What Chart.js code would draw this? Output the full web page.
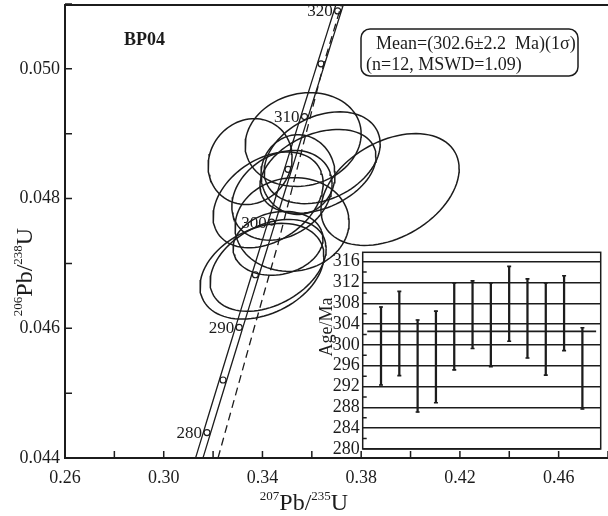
<!DOCTYPE html>
<html>
<head>
<meta charset="utf-8">
<script src="https://cdn.jsdelivr.net/npm/chart.js@4.4.1/dist/chart.umd.min.js"></script>
<style>
html, body { margin: 0; padding: 0; background: #fff; }
#wrap { position: relative; width: 608px; height: 516px; }
#main { position: absolute; left: 0; top: 0; }
#inset { position: absolute; left: 300px; top: 240px; }
</style>
</head>
<body>
<div id="wrap">
  <canvas id="main" width="608" height="516"></canvas>
  <canvas id="inset" width="308" height="230"></canvas>
</div>
<script>
// spot analyses: 207Pb/235U, 206Pb/238U, 1 sigma errors and error correlation
var spotX = [0.3917, 0.3565, 0.3350, 0.3642, 0.3625, 0.3544, 0.3423, 0.3520, 0.3398, 0.3423, 0.3463, 0.3479];
var spotY = [0.04814, 0.04891, 0.04857, 0.04863, 0.04842, 0.04837, 0.04798, 0.04760, 0.04688, 0.04697, 0.04731, 0.04805];
var errX = [0.0280, 0.0235, 0.0170, 0.0235, 0.0235, 0.0150, 0.0223, 0.0231, 0.0251, 0.0235, 0.0182, 0.0203];
var errY = [0.000862, 0.000723, 0.000662, 0.000708, 0.000646, 0.000615, 0.000738, 0.000723, 0.000738, 0.000708, 0.000492, 0.000692];
var rho = [0.37, 0.12, 0.10, 0.30, 0.35, 0.00, 0.35, 0.05, 0.32, 0.36, 0.15, 0.25];

// concordia
var LAMBDA238 = 1.55125e-10;
var LAMBDA235 = 9.8485e-10;
var concordiaAges = [];
for (var a = 274; a <= 324; a++) concordiaAges.push(a);
var concordiaBand = 0.0015;
var markerAges = [280, 285, 290, 295, 300, 305, 310, 315, 320];
var labelAges = [280, 290, 300, 310, 320];
// dashed reference line
var dashX = [0.3220, 0.3366, 0.3463, 0.3650, 0.3721];
var dashY = [0.0440, 0.0460, 0.0473, 0.0501, 0.0510];

// inset: 206Pb/238U ages per spot
var spotNo = [1, 2, 3, 4, 5, 6, 7, 8, 9, 10, 11, 12];
var ageLow = [292.3, 294.1, 287.1, 288.9, 295.2, 299.3, 295.8, 300.7, 297.5, 294.2, 298.9, 287.7];
var ageHigh = [307.3, 310.3, 304.8, 306.5, 311.9, 312.3, 311.9, 315.1, 312.7, 311.9, 313.3, 303.3];
var meanAge = 302.6;
var meanErr = 2.2;
var mswd = 1.09;
var sampleName = 'BP04';

var ink = '#1c1c1c';
var serif = "'Liberation Serif', 'Times New Roman', serif";

function concordiaPoint(age, shift) {
  return { x: Math.exp(LAMBDA235 * age * 1e6) - 1 + shift, y: Math.exp(LAMBDA238 * age * 1e6) - 1 };
}

function ellipsePoints(i) {
  var pts = [];
  var s = Math.sqrt(1 - rho[i] * rho[i]);
  for (var k = 0; k <= 90; k++) {
    var t = k / 90 * 2 * Math.PI;
    pts.push({
      x: spotX[i] + errX[i] * Math.cos(t),
      y: spotY[i] + errY[i] * (rho[i] * Math.cos(t) + s * Math.sin(t))
    });
  }
  return pts;
}

function lineSet(data, width, dash) {
  return {
    type: 'scatter', data: data, showLine: true, pointRadius: 0,
    borderColor: ink, borderWidth: width, borderDash: dash || [], fill: false, tension: 0
  };
}

var datasets = [];
for (var i = 0; i < spotX.length; i++) datasets.push(lineSet(ellipsePoints(i), 1.5));
datasets.push(lineSet(concordiaAges.map(function (t) { return concordiaPoint(t, -concordiaBand); }), 1.3));
datasets.push(lineSet(concordiaAges.map(function (t) { return concordiaPoint(t, concordiaBand); }), 1.3));
datasets.push(lineSet(dashX.map(function (x, k) { return { x: x, y: dashY[k] }; }), 1.3, [8, 5]));
datasets.push({
  type: 'scatter',
  data: markerAges.map(function (t) { return concordiaPoint(t, 0); }),
  pointRadius: 3, pointBackgroundColor: '#fff', pointBorderColor: ink, pointBorderWidth: 1.2
});

// superscript-aware text
function drawRich(ctx, parts, cx, baseline, size, supSize) {
  var total = 0;
  parts.forEach(function (p) {
    ctx.font = (p.sup ? supSize : size) + 'px ' + serif;
    p.w = ctx.measureText(p.t).width;
    total += p.w;
  });
  var x = cx - total / 2;
  ctx.textAlign = 'left';
  ctx.textBaseline = 'alphabetic';
  parts.forEach(function (p) {
    ctx.font = (p.sup ? supSize : size) + 'px ' + serif;
    ctx.fillText(p.t, x, p.sup ? baseline - size * 0.42 : baseline);
    x += p.w;
  });
}

var mainDecor = {
  id: 'mainDecor',
  afterDraw: function (chart) {
    var ctx = chart.ctx, ar = chart.chartArea, xs = chart.scales.x, ys = chart.scales.y;
    ctx.save();
    ctx.strokeStyle = ink;
    ctx.fillStyle = ink;
    ctx.lineWidth = 2;
    ctx.beginPath();
    ctx.moveTo(chart.width, ar.top + 1);
    ctx.lineTo(ar.left, ar.top + 1);
    ctx.lineTo(ar.left, ar.bottom);
    ctx.lineTo(chart.width, ar.bottom);
    ctx.stroke();

    ctx.lineWidth = 1.5;
    ctx.beginPath();
    xs.ticks.forEach(function (t) {
      var p = xs.getPixelForValue(t.value);
      ctx.moveTo(p, ar.bottom);
      ctx.lineTo(p, ar.bottom - 7);
    });
    ys.ticks.forEach(function (t) {
      var p = ys.getPixelForValue(t.value);
      ctx.moveTo(ar.left, p);
      ctx.lineTo(ar.left + 7, p);
    });
    ctx.stroke();

    // age labels on concordia
    ctx.font = '17px ' + serif;
    ctx.textAlign = 'right';
    ctx.textBaseline = 'middle';
    labelAges.forEach(function (t) {
      var pt = concordiaPoint(t, 0);
      ctx.fillText(String(t), xs.getPixelForValue(pt.x) - 5, ys.getPixelForValue(pt.y) + 1);
    });

    // sample name
    ctx.font = 'bold 18px ' + serif;
    ctx.textAlign = 'left';
    ctx.textBaseline = 'alphabetic';
    ctx.fillText(sampleName, 124, 45);

    // result box
    ctx.lineWidth = 1.5;
    ctx.beginPath();
    ctx.roundRect(361, 29, 217, 47, 9);
    ctx.stroke();
    ctx.font = '18px ' + serif;
    ctx.fillText('Mean=(' + meanAge.toFixed(1) + '\u00b1' + meanErr.toFixed(1) + '  Ma)(1\u03c3)', 376, 49);
    ctx.fillText('(n=' + spotNo.length + ', MSWD=' + mswd.toFixed(2) + ')', 366, 70);

    // axis titles
    drawRich(ctx, [{ t: '207', sup: true }, { t: 'Pb/' }, { t: '235', sup: true }, { t: 'U' }], 304, 510, 24, 13);
    ctx.translate(32, 272);
    ctx.rotate(-Math.PI / 2);
    drawRich(ctx, [{ t: '206', sup: true }, { t: 'Pb/' }, { t: '238', sup: true }, { t: 'U' }], 0, 0, 24, 13);
    ctx.restore();
  }
};

function noPad(s) {
  s.paddingTop = 0;
  s.paddingBottom = 0;
  s.paddingLeft = 0;
  s.paddingRight = 0;
}

new Chart(document.getElementById('main'), {
  type: 'scatter',
  data: { datasets: datasets },
  options: {
    responsive: false,
    animation: false,
    layout: { autoPadding: false, padding: { top: 4, right: 0, left: 0, bottom: 0 } },
    plugins: { legend: { display: false }, tooltip: { enabled: false } },
    scales: {
      x: {
        type: 'linear', min: 0.26, max: 0.48,
        afterFit: function (s) { s.height = 58; noPad(s); },
        grid: { display: false, drawTicks: false, tickLength: 0 },
        border: { display: false },
        ticks: {
          stepSize: 0.02, padding: 9, color: ink, maxRotation: 0, autoSkip: false,
          font: { family: serif, size: 18 },
          callback: function (v) { return Math.round(v * 100) % 4 === 2 ? v.toFixed(2) : ''; }
        }
      },
      y: {
        type: 'linear', min: 0.044, max: 0.051,
        afterFit: function (s) { s.width = 65; noPad(s); },
        grid: { display: false, drawTicks: false, tickLength: 0 },
        border: { display: false },
        ticks: {
          stepSize: 0.001, padding: 5, color: ink, autoSkip: false,
          font: { family: serif, size: 18 },
          callback: function (v) { return Math.round(v * 1000) % 2 === 0 ? v.toFixed(3) : ''; }
        }
      }
    }
  },
  plugins: [mainDecor]
});

// inset chart
var insetDecor = {
  id: 'insetDecor',
  beforeDraw: function (chart) {
    var ctx = chart.ctx, ar = chart.chartArea;
    ctx.save();
    ctx.fillStyle = '#fff';
    ctx.fillRect(ar.left, ar.top, ar.right - ar.left, ar.bottom - ar.top);
    ctx.restore();
  },
  afterDraw: function (chart) {
    var ctx = chart.ctx, ar = chart.chartArea, ys = chart.scales.y;
    ctx.save();
    ctx.strokeStyle = ink;
    ctx.fillStyle = ink;
    ctx.lineWidth = 1.5;
    ctx.strokeRect(ar.left, ar.top, ar.right - ar.left, ar.bottom - ar.top);
    ctx.beginPath();
    ys.ticks.forEach(function (t) {
      if (t.value % 4 !== 0) {
        var p = ys.getPixelForValue(t.value);
        ctx.moveTo(ar.left, p);
        ctx.lineTo(ar.left + 4, p);
      }
    });
    ctx.stroke();
    ctx.font = '18px ' + serif;
    ctx.textAlign = 'center';
    ctx.textBaseline = 'middle';
    ctx.translate(27, 87);
    ctx.rotate(-Math.PI / 2);
    ctx.fillText('Age/Ma', 0, 0);
    ctx.restore();
  }
};

new Chart(document.getElementById('inset'), {
  type: 'bar',
  data: {
    datasets: [
      {
        type: 'bar',
        data: spotNo.map(function (n, k) { return { x: n, y: [ageLow[k], ageHigh[k]] }; }),
        backgroundColor: ink, barThickness: 1.6, borderWidth: 0
      },
      {
        type: 'scatter',
        data: spotNo.map(function (n, k) { return { x: n, y: ageLow[k] }; })
          .concat(spotNo.map(function (n, k) { return { x: n, y: ageHigh[k] }; })),
        pointStyle: 'line', pointRadius: 2, borderColor: ink, borderWidth: 1.6
      },
      {
        type: 'line',
        data: [{ x: 0.25, y: meanAge }, { x: 12.75, y: meanAge }],
        borderColor: ink, borderWidth: 1.8, pointRadius: 0, fill: false
      }
    ]
  },
  options: {
    responsive: false,
    animation: false,
    layout: { padding: { top: 12.3, right: 7.3, left: 0, bottom: 21 } },
    plugins: { legend: { display: false }, tooltip: { enabled: false } },
    scales: {
      x: { type: 'linear', min: 0, max: 13, display: false, offset: false },
      y: {
        type: 'linear', min: 280, max: 317.8,
        afterFit: function (s) { s.width = 62.7; noPad(s); },
        border: { display: false },
        grid: {
          drawTicks: false, tickLength: 0, lineWidth: 1.5,
          color: function (c) { return c.tick && c.tick.value % 4 === 0 ? ink : 'rgba(0,0,0,0)'; }
        },
        ticks: {
          stepSize: 2, padding: 3, color: ink, autoSkip: false, includeBounds: false,
          font: { family: serif, size: 18 },
          callback: function (v) { return v % 4 === 0 ? String(v) : ''; }
        }
      }
    }
  },
  plugins: [insetDecor]
});
</script>
</body>
</html>
